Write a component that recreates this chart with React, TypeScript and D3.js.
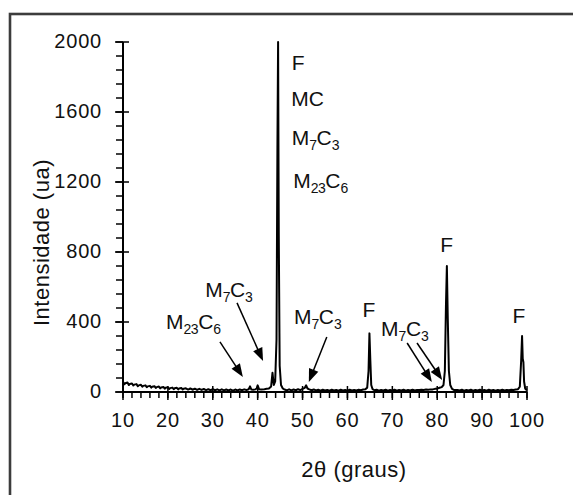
import * as d3 from 'd3';

const W = 573, H = 495;

const xTicks = [10, 20, 30, 40, 50, 60, 70, 80, 90, 100];
const yTicks = [0, 400, 800, 1200, 1600, 2000];
const xMinor = d3.range(10, 100.01, 2);
const yMinor = d3.range(0, 2000.01, 80);

// 2θ (graus), intensidade (ua)
const scan: [number, number][] = [
  [10, 58], [10.3, 44], [10.5, 50], [11, 54], [11.3, 40], [11.5, 46], [12, 49], [12.3, 37], [12.5, 42], [13, 45],
  [13.3, 33], [13.5, 38], [14, 41], [14.3, 30], [14.5, 35], [15, 38], [15.3, 27], [15.5, 32], [16, 35], [16.3, 25],
  [16.5, 30], [17, 33], [17.3, 23], [17.5, 28], [18, 31], [18.3, 21], [18.5, 26], [19, 29], [19.3, 19], [19.5, 24],
  [20, 27], [20.3, 17], [20.5, 22], [21, 25], [21.3, 16], [21.5, 21], [22, 24], [22.3, 15], [22.5, 20], [23, 23],
  [23.3, 14], [23.5, 19], [24, 21], [24.5, 14], [25, 20], [25.5, 13], [26, 19], [26.5, 12], [27, 18], [27.5, 12],
  [28, 17], [28.5, 11], [29, 16], [29.5, 10], [30, 16], [30.5, 10], [31, 15], [31.5, 9], [32, 15], [32.5, 9],
  [33, 14], [33.5, 9], [34, 14], [34.5, 8], [35, 14], [35.5, 9], [36, 14], [36.5, 10], [37, 15], [37.5, 11],
  [38, 16], [38.3, 32], [38.6, 14], [39, 13], [39.5, 15], [39.8, 22], [40, 38], [40.3, 16], [40.8, 14], [41.5, 16],
  [42, 18], [42.5, 20], [43, 32], [43.3, 110], [43.6, 40], [43.9, 60], [44.2, 300], [44.4, 1400], [44.55, 2000],
  [44.7, 900], [44.9, 150], [45.2, 40], [45.6, 20],
  [46, 14], [46.5, 9], [47, 15], [47.5, 9], [48, 14], [48.5, 10], [49, 16], [49.5, 11], [50, 18], [50.5, 24],
  [50.8, 38], [51.1, 20], [51.5, 15], [52, 10], [52.5, 14], [53, 9], [53.5, 13], [54, 8], [54.5, 13], [55, 9],
  [55.5, 12], [56, 8], [56.5, 13], [57, 9], [57.5, 12], [58, 8], [58.5, 13], [59, 9], [59.5, 12], [60, 8],
  [60.5, 13], [61, 9], [61.5, 12], [62, 9], [62.5, 13], [63, 10], [63.5, 14], [64, 16], [64.4, 25], [64.7, 120],
  [64.9, 335], [65.1, 180], [65.3, 40], [65.6, 16], [66, 10], [66.5, 13], [67, 8], [67.5, 12], [68, 9], [68.5, 13],
  [69, 8], [69.5, 12], [70, 9], [70.5, 13], [71, 8], [71.5, 12], [72, 9], [72.5, 13], [73, 8], [73.5, 12],
  [74, 9], [74.5, 13], [75, 9], [75.5, 12], [76, 11], [76.5, 13], [77, 12], [77.5, 14], [78, 13], [78.5, 15],
  [79, 15], [79.5, 18], [80, 19], [80.5, 24], [81, 28], [81.4, 40], [81.7, 120], [81.95, 500], [82.15, 720], [82.35, 420],
  [82.6, 120], [82.9, 40], [83.3, 18], [83.8, 11], [84.5, 12], [85, 9], [85.5, 13], [86, 8], [86.5, 12], [87, 9],
  [87.5, 13], [88, 8], [88.5, 12], [89, 9], [89.5, 13], [90, 9], [90.5, 12], [91, 8], [91.5, 13], [92, 9],
  [92.5, 12], [93, 8], [93.5, 12], [94, 9], [94.5, 13], [95, 9], [95.5, 12], [96, 10], [96.5, 13], [97, 11],
  [97.5, 14], [98, 16], [98.4, 30], [98.7, 180], [98.9, 320], [99.05, 190], [99.2, 170], [99.35, 60], [99.6, 20],
  [99.8, 14], [100, 12],
];

// phase labels: parts alternate normal / subscript, position in data units
type Part = [string, boolean];
const phaseLabels: { parts: Part[]; x: number; y: number; anchor: string }[] = [
  { parts: [['F', false]], x: 47.6, y: 1840, anchor: 'start' },
  { parts: [['MC', false]], x: 47.5, y: 1634, anchor: 'start' },
  { parts: [['M', false], ['7', true], ['C', false], ['3', true]], x: 47.6, y: 1411, anchor: 'start' },
  { parts: [['M', false], ['23', true], ['C', false], ['6', true]], x: 47.9, y: 1166, anchor: 'start' },
  { parts: [['F', false]], x: 82.1, y: 800, anchor: 'middle' },
  { parts: [['F', false]], x: 64.8, y: 429, anchor: 'middle' },
  { parts: [['F', false]], x: 98.2, y: 394, anchor: 'middle' },
  { parts: [['M', false], ['7', true], ['C', false], ['3', true]], x: 48.1, y: 389, anchor: 'start' },
  { parts: [['M', false], ['7', true], ['C', false], ['3', true]], x: 67.5, y: 320, anchor: 'start' },
  { parts: [['M', false], ['7', true], ['C', false], ['3', true]], x: 28.3, y: 543, anchor: 'start' },
  { parts: [['M', false], ['23', true], ['C', false], ['6', true]], x: 19.6, y: 360, anchor: 'start' },
];

// arrows: [x0, y0, x1, y1] in data units
const arrows: [number, number, number, number][] = [
  [31.6, 286, 36.7, 86],
  [35.4, 509, 41.2, 177],
  [55.4, 314, 51.4, 57],
  [73.3, 280, 78.8, 57],
  [75.5, 280, 81.1, 69],
];

const FONT = 'Arial, "Liberation Sans", sans-serif';

export default function App() {
  const x = d3.scaleLinear().domain([10, 100]).range([123, 527]);
  const y = d3.scaleLinear().domain([0, 2000]).range([392, 42]);
  const line = d3.line<[number, number]>().x(d => x(d[0])).y(d => y(d[1]));

  const arrowHead = (x0: number, y0: number, x1: number, y1: number) => {
    const ang = Math.atan2(y1 - y0, x1 - x0);
    const len = 13, half = 5;
    const bx = x1 - len * Math.cos(ang), by = y1 - len * Math.sin(ang);
    const px = -Math.sin(ang) * half, py = Math.cos(ang) * half;
    return `M${x1},${y1}L${bx + px},${by + py}L${bx - px},${by - py}Z`;
  };

  return (
    <svg width={W} height={H} style={{ position: 'absolute', left: 0, top: 0, background: '#fff' }}
      fontFamily={FONT} fill="#111">
      <rect x={10} y={14} width={700} height={700} fill="none" stroke="#3c3c3c" strokeWidth={2.6} />

      <path d={line(scan) ?? ''} fill="none" stroke="#000" strokeWidth={2} strokeLinejoin="round" />

      {/* y axis */}
      <line x1={x(10)} x2={x(10)} y1={y(0)} y2={y(2000)} stroke="#000" strokeWidth={2} />
      {yMinor.map(v => (
        <line key={'ym' + v} x1={x(10) - 7} x2={x(10)} y1={y(v)} y2={y(v)} stroke="#000" strokeWidth={1.5} />
      ))}
      {yTicks.map(v => (
        <g key={'y' + v}>
          <line x1={x(10) - 8} x2={x(10) + 6} y1={y(v)} y2={y(v)} stroke="#000" strokeWidth={1.5} />
          <text x={x(10) - 21} y={y(v)} dy="0.3em" textAnchor="end" fontSize={20} letterSpacing={0.8}>{v}</text>
        </g>
      ))}

      {/* x axis */}
      <line x1={x(10)} x2={x(100)} y1={y(0)} y2={y(0)} stroke="#000" strokeWidth={2} />
      {xMinor.map(v => (
        <line key={'xm' + v} x1={x(v)} x2={x(v)} y1={y(0)} y2={y(0) + 6} stroke="#000" strokeWidth={1.5} />
      ))}
      {xTicks.map(v => (
        <g key={'x' + v}>
          <line x1={x(v)} x2={x(v)} y1={y(0) - 6} y2={y(0) + 8} stroke="#000" strokeWidth={1.5} />
          <text x={x(v)} y={427} textAnchor="middle" fontSize={20} letterSpacing={0.8}>{v}</text>
        </g>
      ))}

      <text x={354} y={477} textAnchor="middle" fontSize={22} letterSpacing={0.5}>2θ (graus)</text>
      <text transform="translate(49,242.5) rotate(-90)" textAnchor="middle" fontSize={22} letterSpacing={0.5}>
        Intensidade (ua)
      </text>

      {phaseLabels.map((l, i) => (
        <text key={'l' + i} x={x(l.x)} y={y(l.y)} textAnchor={l.anchor} fontSize={21}>
          {l.parts.map(([t, sub], j) => {
            const prevSub = j > 0 && l.parts[j - 1][1];
            const dy = sub ? 5 : prevSub ? -5 : 0;
            return (
              <tspan key={j} fontSize={sub ? 14 : 21} dy={dy} letterSpacing={sub ? -0.5 : 0}>{t}</tspan>
            );
          })}
        </text>
      ))}

      {arrows.map(([a, b, c, d], i) => {
        const x0 = x(a), y0 = y(b), x1 = x(c), y1 = y(d);
        return (
          <g key={'a' + i}>
            <line x1={x0} y1={y0} x2={x1 - (x1 - x0) * 0.1} y2={y1 - (y1 - y0) * 0.1} stroke="#000" strokeWidth={1.5} />
            <path d={arrowHead(x0, y0, x1, y1)} fill="#000" />
          </g>
        );
      })}
    </svg>
  );
}
